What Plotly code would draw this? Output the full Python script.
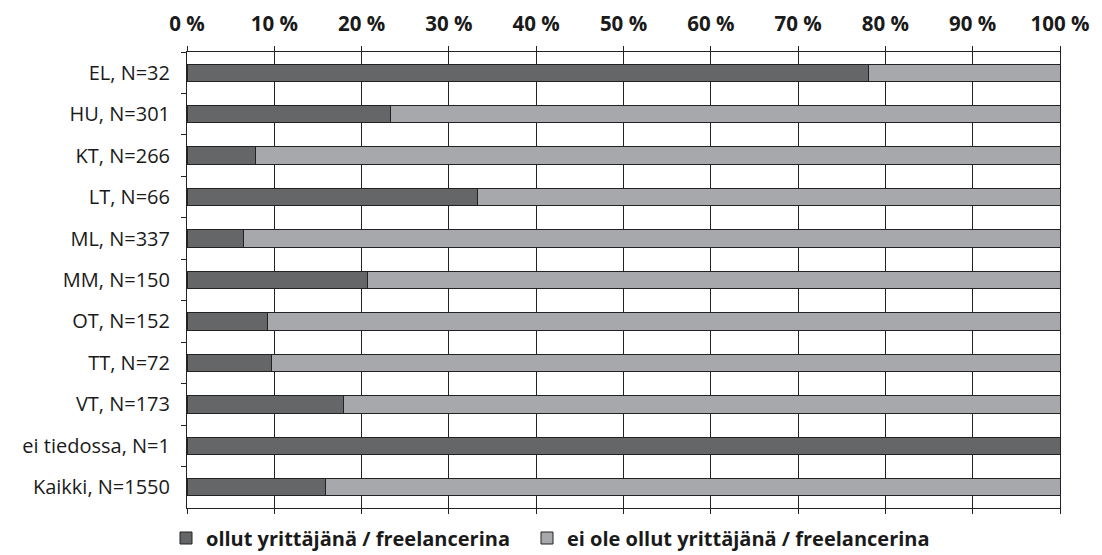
import plotly.graph_objects as go

categories = ["EL, N=32", "HU, N=301", "KT, N=266", "LT, N=66", "ML, N=337", "MM, N=150",
              "OT, N=152", "TT, N=72", "VT, N=173", "ei tiedossa, N=1", "Kaikki, N=1550"]
ollut = [78.1, 23.3, 7.9, 33.3, 6.5, 20.7, 9.2, 9.7, 17.9, 100.0, 15.9]
ei_ole = [round(100 - v, 1) for v in ollut]
series_names = ["ollut yrittäjänä / freelancerina", "ei ole ollut yrittäjänä / freelancerina"]
tick_vals = [0, 10, 20, 30, 40, 50, 60, 70, 80, 90, 100]
tick_text = [f"{v} %" for v in tick_vals]

FONT = "Open Sans, Noto Sans, sans-serif"
TXT = "#1a1a1a"
LINE = "#222222"

fig = go.Figure()
fig.add_trace(go.Bar(y=categories, x=ollut, orientation="h", name=series_names[0],
                     legend="legend",
                     marker=dict(color="#656668", line=dict(color=LINE, width=1))))
fig.add_trace(go.Bar(y=categories, x=ei_ole, orientation="h", name=series_names[1],
                     legend="legend2",
                     marker=dict(color="#a7a8ab", line=dict(color=LINE, width=1))))

W, H = 1094, 547  # page body has an 8px margin
leg_common = dict(orientation="h", xref="container", yref="container",
                  xanchor="left", y=1 - 530 / H, yanchor="middle",
                  font=dict(family=FONT, size=20, color=TXT, weight="bold"),
                  itemwidth=30, bgcolor="rgba(0,0,0,0)")
fig.update_layout(
    barmode="stack", bargap=0.58,
    width=W, height=H,
    margin=dict(l=179, r=42, t=44, b=47, autoexpand=False),
    paper_bgcolor="white", plot_bgcolor="white",
    font=dict(family=FONT, size=20, color=TXT),
    legend=dict(x=158 / W, **leg_common),
    legend2=dict(x=519 / W, **leg_common),
    showlegend=True,
)
fig.update_xaxes(side="top", range=[0, 100], tickvals=tick_vals, ticktext=tick_text,
                 showgrid=True, gridcolor=LINE, gridwidth=1,
                 showline=True, linecolor=LINE, linewidth=1, mirror="allticks",
                 ticks="outside", ticklen=5, tickcolor=LINE,
                 tickfont=dict(family=FONT, size=20.5, color=TXT, weight="bold"),
                 ticklabelstandoff=7, zeroline=False, fixedrange=True)
fig.update_yaxes(autorange="reversed", showline=True, linecolor=LINE, linewidth=1,
                 mirror=True, ticks="outside", ticklen=5, tickcolor=LINE,
                 tickson="boundaries", showgrid=False,
                 tickfont=dict(family=FONT, size=20, color=TXT),
                 ticklabelstandoff=12)

fig.write_html("out.html")
